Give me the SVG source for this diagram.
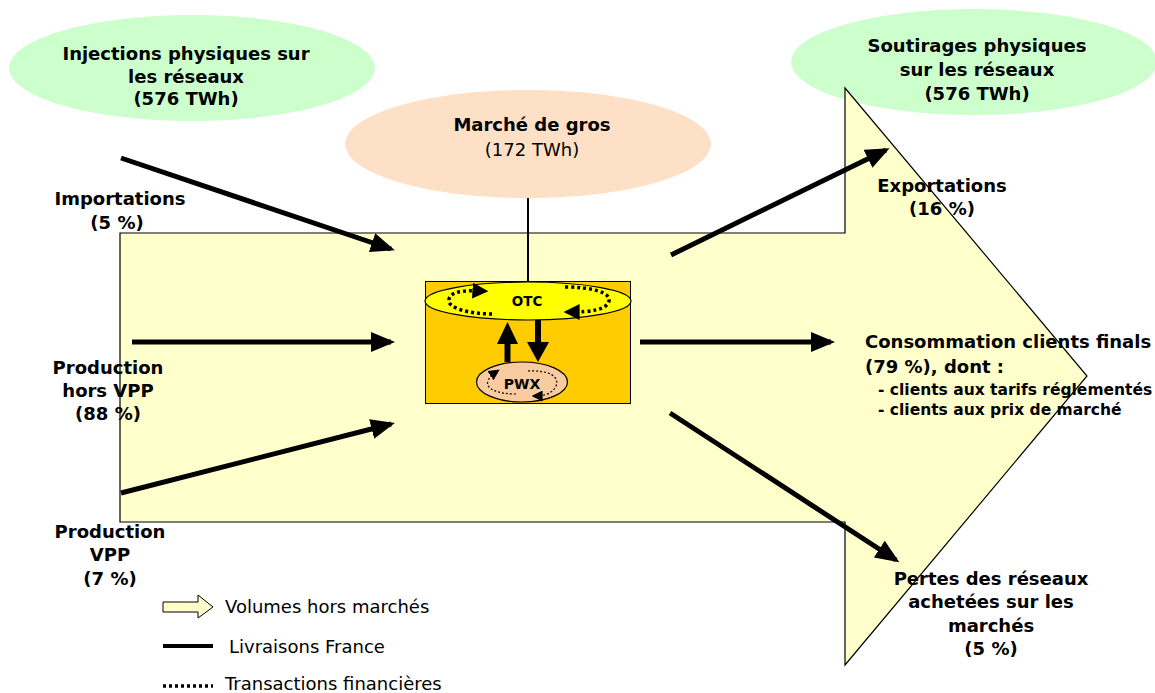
<svg xmlns="http://www.w3.org/2000/svg" width="1155" height="693" viewBox="0 0 1155 693">
<defs>
<style>
.b{font-family:"DejaVu Sans",Verdana,sans-serif;font-weight:bold;font-size:18px;fill:#000;text-anchor:middle}
.bl{text-anchor:start}
.s{font-size:15.5px}
.r{font-family:"DejaVu Sans",Verdana,sans-serif;font-size:18px;fill:#000}
.conn{stroke:#000;stroke-width:5;fill:none}
</style>
<marker id="ah" viewBox="0 0 24 20" markerWidth="24" markerHeight="20" refX="20" refY="10" orient="auto" markerUnits="userSpaceOnUse">
<path d="M0,0 L24,10 L0,20 z" fill="#000"/>
</marker>
<marker id="sh" viewBox="0 0 10 10" markerWidth="16" markerHeight="16" refX="6" refY="5" orient="auto" markerUnits="userSpaceOnUse">
<path d="M0,0 L10,5 L0,10 z" fill="#000"/>
</marker>
<marker id="th" viewBox="0 0 10 10" markerWidth="11" markerHeight="11" refX="6" refY="5" orient="auto" markerUnits="userSpaceOnUse">
<path d="M0,0 L10,5 L0,10 z" fill="#000"/>
</marker>
</defs>
<rect width="1155" height="693" fill="#fff"/>

<g id="injections">
<ellipse cx="192" cy="68" rx="183" ry="53" fill="#ccffcc"/>
<text class="b" x="186" y="60">Injections physiques sur</text>
<text class="b" x="186" y="83">les réseaux</text>
<text class="b" x="186" y="105">(576 TWh)</text>
</g>

<g id="soutirages">
<ellipse cx="974" cy="62" rx="183" ry="53" fill="#ccffcc"/>
<text class="b" x="977" y="52">Soutirages physiques</text>
<text class="b" x="977" y="76">sur les réseaux</text>
<text class="b" x="977" y="100">(576 TWh)</text>
</g>

<g id="marche-de-gros">
<ellipse cx="528" cy="144" rx="183" ry="54" fill="#fde0c5"/>
<text class="b" x="532" y="131">Marché de gros</text>
<text class="r" x="532" y="156" text-anchor="middle">(172 TWh)</text>
</g>

<g id="volumes-hors-marches">
<path d="M120,233 L845,233 L845,88 L1087,376 L845,665 L845,522 L120,522 Z" fill="#ffffcc" stroke="#000" stroke-width="1.2"/>
</g>

<g id="connectors">
<line x1="528" y1="198" x2="528" y2="282" stroke="#000" stroke-width="2"/>
<line class="conn" x1="121" y1="158" x2="391" y2="249" marker-end="url(#ah)"/>
<line class="conn" x1="132" y1="342" x2="391" y2="342" marker-end="url(#ah)"/>
<line class="conn" x1="121" y1="493" x2="391" y2="424" marker-end="url(#ah)"/>
<line class="conn" x1="671" y1="255" x2="886" y2="150" marker-end="url(#ah)"/>
<line class="conn" x1="640" y1="342" x2="831" y2="342" marker-end="url(#ah)"/>
<line class="conn" x1="670" y1="413" x2="896" y2="560" marker-end="url(#ah)"/>
</g>

<g id="marche-box">
<rect x="425.5" y="281.5" width="205" height="122" fill="#ffcc00" stroke="#000" stroke-width="1"/>
</g>

<g id="otc">
<ellipse cx="528" cy="301" rx="103" ry="19" fill="#ffff00" stroke="#000" stroke-width="1.2"/>
<text class="b" x="527" y="306" style="font-size:13.5px">OTC</text>
<path d="M492,314 C470,314 446,308 449,299 C451,292 462,290 482,291" fill="none" stroke="#000" stroke-width="3.5" stroke-dasharray="3,3" marker-end="url(#sh)"/>
<path d="M565,287 C590,287 611,292 609,301 C607,310 590,312 570,312" fill="none" stroke="#000" stroke-width="3.5" stroke-dasharray="3,3" marker-end="url(#sh)"/>
</g>

<g id="pwx">
<ellipse cx="522" cy="382" rx="45.5" ry="20" fill="#f9cba0" stroke="#000" stroke-width="1.2"/>
<text class="b" x="522" y="389" style="font-size:14px">PWX</text>
<path d="M528,371 C548,370 560,376 556,386 C553,393 545,396 536,396" fill="none" stroke="#000" stroke-width="1.2" stroke-dasharray="2,2" marker-end="url(#th)"/>
<path d="M516,394 C498,394 485,389 488,381 C490,376 493,374 496,372" fill="none" stroke="#000" stroke-width="1.2" stroke-dasharray="2,2" marker-end="url(#th)"/>
</g>

<g id="otc-pwx-arrows">
<rect x="504.5" y="343" width="6" height="19" fill="#000"/>
<path d="M497,344 L518,344 L507.5,322 z" fill="#000"/>
<rect x="535" y="320" width="6" height="23" fill="#000"/>
<path d="M527,342 L549,342 L538,362 z" fill="#000"/>
</g>

<g id="importations">
<text class="b" x="120" y="205">Importations</text>
<text class="b" x="117" y="229">(5 %)</text>
</g>
<g id="production-hors-vpp">
<text class="b" x="108" y="374">Production</text>
<text class="b" x="108" y="397">hors VPP</text>
<text class="b" x="108" y="420">(88 %)</text>
</g>
<g id="production-vpp">
<text class="b" x="110" y="538">Production</text>
<text class="b" x="110" y="561">VPP</text>
<text class="b" x="110" y="585">(7 %)</text>
</g>
<g id="exportations">
<text class="b" x="942" y="192">Exportations</text>
<text class="b" x="942" y="215">(16 %)</text>
</g>
<g id="consommation">
<text class="b bl" x="865" y="348">Consommation clients finals</text>
<text class="b bl" x="865" y="373">(79 %), dont :</text>
<text class="b bl s" x="878" y="395">- clients aux tarifs réglementés</text>
<text class="b bl s" x="878" y="415">- clients aux prix de marché</text>
</g>
<g id="pertes">
<text class="b" x="991" y="585">Pertes des réseaux</text>
<text class="b" x="991" y="608">achetées sur les</text>
<text class="b" x="991" y="632">marchés</text>
<text class="b" x="991" y="655">(5 %)</text>
</g>

<g id="legend">
<path d="M163,602 L198,602 L198,595 L213,607 L198,618 L198,612 L163,612 Z" fill="#ffffcc" stroke="#000" stroke-width="1"/>
<text class="r" x="225" y="613">Volumes hors marchés</text>
<line x1="163" y1="646" x2="213" y2="646" stroke="#000" stroke-width="4"/>
<text class="r" x="229" y="653">Livraisons France</text>
<line x1="163" y1="686" x2="213" y2="686" stroke="#000" stroke-width="3.5" stroke-dasharray="3,3"/>
<text class="r" x="225" y="690">Transactions financières</text>
</g>
</svg>
